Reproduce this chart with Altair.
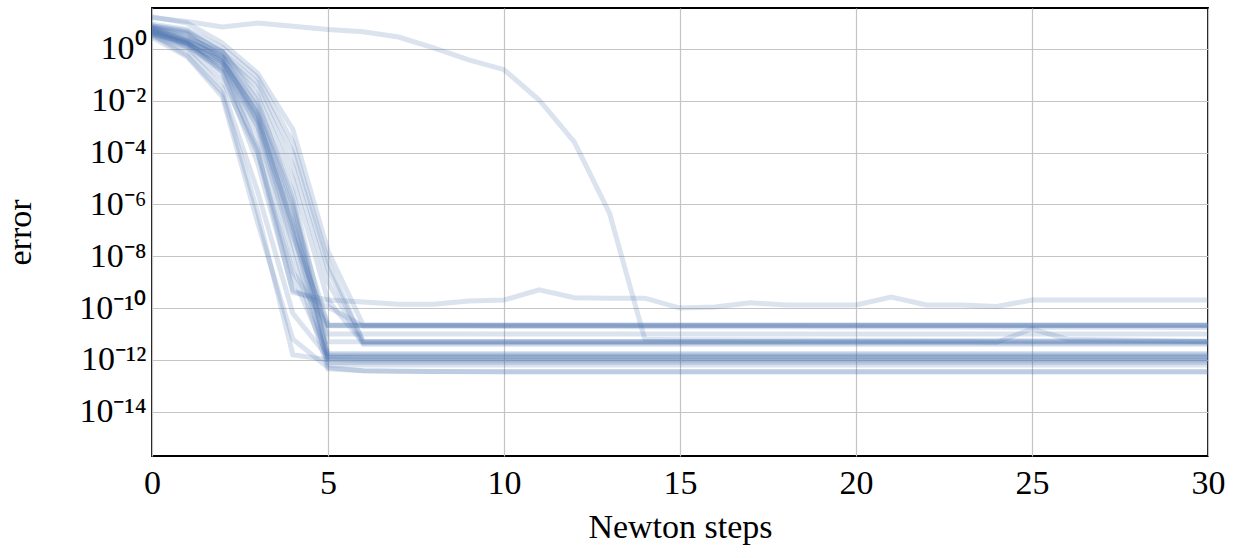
import altair as alt
import pandas as pd

# ---------------- data (log10 of the error, one value per Newton step 0..30) ----------------
steps = list(range(31))

run_slow = [1.2, 1.06, 0.85, 1.0, 0.88, 0.75, 0.66, 0.46, 0.04, -0.42, -0.8, -1.97, -3.6, -6.35, -11.2,
            -11.22, -11.22, -11.23, -11.23, -11.24, -11.24, -11.24, -11.25, -11.25, -11.25, -11.26,
            -11.26, -11.26, -11.27, -11.27, -11.27]
run_bumpy = [0.6, 0.25, -0.6, -3.9, -9.4, -9.69, -9.77, -9.85, -9.85, -9.73, -9.69, -9.3, -9.6, -9.62,
             -9.62, -10.0, -9.96, -9.8, -9.88, -9.88, -9.88, -9.58, -9.88, -9.88, -9.94, -9.69, -9.69,
             -9.69, -9.69, -9.69, -9.69]
run_p1 = [0.7, 0.3, -0.9, -4.4, -9.3, -9.95, -10.7, -10.7, -10.7, -10.7, -10.71, -10.71, -10.71, -10.71,
          -10.72, -10.72, -10.72, -10.72, -10.72, -10.73, -10.73, -10.73, -10.73, -10.73, -10.74, -10.74,
          -10.74, -10.74, -10.74, -10.75, -10.75]
run_f1 = [0.55, -0.25, -1.7, -6.3, -11.8, -12.0, -12.02, -12.02, -12.02, -12.02, -12.02, -12.02, -12.02,
          -12.02, -12.02, -12.02, -12.02, -12.02, -12.02, -12.02, -12.02, -12.02, -12.02, -12.02, -12.02,
          -12.02, -12.02, -12.02, -12.02, -12.02, -12.02]
run_f2 = [0.45, -0.3, -1.85, -6.7, -11.2, -12.3, -12.42, -12.44, -12.45, -12.46, -12.47, -12.47, -12.47,
          -12.47, -12.47, -12.47, -12.47, -12.47, -12.47, -12.47, -12.47, -12.47, -12.47, -12.47, -12.47,
          -12.47, -12.47, -12.47, -12.47, -12.47, -12.47]
run_f3 = [0.5, -0.05, -1.5, -5.5, -10.2, -11.9, -11.9, -11.9, -11.9, -11.9, -11.9, -11.9, -11.9, -11.9,
          -11.9, -11.9, -11.9, -11.9, -11.9, -11.9, -11.9, -11.9, -11.9, -11.9, -11.9, -11.9, -11.9,
          -11.9, -11.9, -11.9, -11.9]
run_g1 = [0.8, 0.3, -0.3, -2.3, -6.0, -12.0, -12.0, -12.0, -12.0, -12.0, -12.0, -12.0, -12.0, -12.0,
          -12.0, -12.0, -12.0, -12.0, -12.0, -12.0, -12.0, -12.0, -12.0, -12.0, -12.0, -12.0, -12.0,
          -12.0, -12.0, -12.0, -12.0]
run_g2 = [0.7, 0.2, -0.5, -2.8, -6.8, -11.9, -11.92, -11.92, -11.92, -11.92, -11.92, -11.92, -11.92,
          -11.92, -11.92, -11.92, -11.92, -11.92, -11.92, -11.92, -11.92, -11.92, -11.92, -11.92, -11.92,
          -11.92, -11.92, -11.92, -11.92, -11.92, -11.92]
run_g3 = [0.6, 0.1, -0.8, -3.3, -7.5, -12.1, -12.1, -12.1, -12.1, -12.1, -12.1, -12.1, -12.1, -12.1,
          -12.1, -12.1, -12.1, -12.1, -12.1, -12.1, -12.1, -12.1, -12.1, -12.1, -12.1, -12.1, -12.1,
          -12.1, -12.1, -12.1, -12.1]
run_g4 = [0.9, 0.65, -0.1, -2.0, -5.8, -11.8, -11.8, -11.8, -11.8, -11.8, -11.8, -11.8, -11.8, -11.8,
          -11.8, -11.8, -11.8, -11.8, -11.8, -11.8, -11.8, -11.8, -11.8, -11.8, -11.8, -11.8, -11.8,
          -11.8, -11.8, -11.8, -11.8]
run_g5 = [0.75, 0.35, -0.4, -2.6, -7.0, -12.2, -12.2, -12.2, -12.2, -12.2, -12.2, -12.2, -12.2, -12.2,
          -12.2, -12.2, -12.2, -12.2, -12.2, -12.2, -12.2, -12.2, -12.2, -12.2, -12.2, -12.2, -12.2,
          -12.2, -12.2, -12.2, -12.2]
run_g6 = [0.65, 0.15, -0.7, -3.0, -8.0, -12.35, -12.42, -12.44, -12.45, -12.45, -12.45, -12.45, -12.45,
          -12.45, -12.45, -12.45, -12.45, -12.45, -12.45, -12.45, -12.45, -12.45, -12.45, -12.45, -12.45,
          -12.45, -12.45, -12.45, -12.45, -12.45, -12.45]
run_g7 = [0.85, 0.6, -0.35, -2.5, -6.5, -11.75, -11.75, -11.75, -11.75, -11.75, -11.75, -11.75, -11.75,
          -11.75, -11.75, -11.75, -11.75, -11.75, -11.75, -11.75, -11.75, -11.75, -11.75, -11.75, -11.75,
          -11.75, -11.75, -11.75, -11.75, -11.75, -11.75]
run_g8 = [0.55, 0.05, -1.2, -4.0, -8.8, -11.85, -11.85, -11.85, -11.85, -11.85, -11.85, -11.85, -11.85,
          -11.85, -11.85, -11.85, -11.85, -11.85, -11.85, -11.85, -11.85, -11.85, -11.85, -11.85, -11.85,
          -11.85, -11.85, -11.85, -11.85, -11.85, -11.85]
run_h1 = [0.7, 0.25, -0.5, -2.5, -6.2, -10.66, -10.66, -10.66, -10.66, -10.66, -10.66, -10.66, -10.66,
          -10.66, -10.66, -10.66, -10.66, -10.66, -10.66, -10.66, -10.66, -10.66, -10.66, -10.66, -10.66,
          -10.66, -10.66, -10.66, -10.66, -10.66, -10.66]
run_h2 = [0.6, 0.2, -0.6, -2.9, -7.2, -10.66, -10.66, -10.66, -10.66, -10.66, -10.66, -10.66, -10.66,
          -10.66, -10.66, -10.66, -10.66, -10.66, -10.66, -10.66, -10.66, -10.66, -10.66, -10.66, -10.66,
          -10.66, -10.66, -10.66, -10.66, -10.66, -10.66]
run_h3 = [0.8, 0.55, -0.45, -2.7, -6.8, -11.0, -11.0, -11.0, -11.0, -11.0, -11.0, -11.0, -11.0, -11.0,
          -11.0, -11.0, -11.0, -11.0, -11.0, -11.0, -11.0, -11.0, -11.0, -11.0, -11.0, -11.0, -11.0,
          -11.0, -11.0, -11.0, -11.0]
run_h4 = [0.75, 0.3, -0.3, -2.2, -5.5, -11.3, -11.3, -11.3, -11.3, -11.3, -11.3, -11.3, -11.3, -11.3,
          -11.3, -11.3, -11.3, -11.3, -11.3, -11.3, -11.3, -11.3, -11.3, -11.3, -11.3, -11.3, -11.3,
          -11.3, -11.3, -11.3, -11.3]
run_h5 = [0.65, 0.2, -0.9, -3.8, -8.6, -10.68, -10.68, -10.68, -10.68, -10.68, -10.68, -10.68, -10.68,
          -10.68, -10.68, -10.68, -10.68, -10.68, -10.68, -10.68, -10.68, -10.68, -10.68, -10.68, -10.68,
          -10.68, -10.68, -10.68, -10.68, -10.68, -10.68]
run_s1 = [1.24, 1.0, 0.23, -0.93, -3.1, -7.8, -10.66, -10.66, -10.66, -10.66, -10.66, -10.66, -10.66,
          -10.66, -10.66, -10.66, -10.66, -10.66, -10.66, -10.66, -10.66, -10.66, -10.66, -10.66, -10.66,
          -10.66, -10.66, -10.66, -10.66, -10.66, -10.66]
run_s2 = [0.9, 0.7, -0.15, -1.3, -4.0, -8.5, -11.3, -11.3, -11.3, -11.3, -11.3, -11.3, -11.3, -11.3,
          -11.3, -11.3, -11.3, -11.3, -11.3, -11.3, -11.3, -11.3, -11.3, -11.3, -11.3, -11.3, -11.3,
          -11.3, -11.3, -11.3, -11.3]
run_s3 = [0.85, 0.45, -0.2, -1.5, -4.5, -9.0, -11.4, -11.4, -11.4, -11.4, -11.4, -11.4, -11.4, -11.4,
          -11.4, -11.4, -11.4, -11.4, -11.4, -11.4, -11.4, -11.4, -11.4, -11.4, -11.4, -11.4, -11.4,
          -11.4, -11.4, -11.4, -11.4]
run_s4 = [0.95, 0.75, 0.05, -1.1, -3.6, -8.2, -11.3, -11.3, -11.3, -11.3, -11.3, -11.3, -11.3, -11.3,
          -11.3, -11.3, -11.3, -11.3, -11.3, -11.3, -11.3, -11.3, -11.3, -11.3, -11.32, -10.8, -11.2,
          -11.22, -11.24, -11.27, -11.3]
run_s5 = [0.8, 0.4, -0.1, -1.8, -5.0, -9.7, -11.35, -11.35, -11.35, -11.35, -11.35, -11.35, -11.35,
          -11.35, -11.35, -11.35, -11.35, -11.35, -11.35, -11.35, -11.35, -11.35, -11.35, -11.35, -11.35,
          -11.35, -11.35, -11.35, -11.35, -11.35, -11.35]

runs = {
    "slow": run_slow, "bumpy": run_bumpy, "p1": run_p1, "f1": run_f1, "f2": run_f2, "f3": run_f3,
    "g1": run_g1, "g2": run_g2, "g3": run_g3, "g4": run_g4, "g5": run_g5, "g6": run_g6, "g7": run_g7,
    "g8": run_g8, "h1": run_h1, "h2": run_h2, "h3": run_h3, "h4": run_h4, "h5": run_h5, "s1": run_s1,
    "s2": run_s2, "s3": run_s3, "s4": run_s4, "s5": run_s5,
}

x_ticks = [0, 5, 10, 15, 20, 25, 30]
y_tick_exps = [0, -2, -4, -6, -8, -10, -12, -14]
y_tick_labels = ["10⁰", "10⁻²", "10⁻⁴", "10⁻⁶", "10⁻⁸", "10⁻¹⁰", "10⁻¹²", "10⁻¹⁴"]
y_domain_exps = [-15.71, 1.58]

# ---------------- build table ----------------
rows = []
for name, exps in runs.items():
    for s, e in zip(steps, exps):
        rows.append({"run": name, "step": s, "error": 10.0 ** e})
df = pd.DataFrame(rows)

label_expr = ""
for e, lab in zip(y_tick_exps, y_tick_labels):
    label_expr += f"round(log(datum.value)/LN10) == {e} ? '{lab}' : "
label_expr += "''"

FONT = "Liberation Serif"
FS = 34

chart = alt.Chart(df).mark_line(
    color="#4a72b0", opacity=0.2, strokeWidth=5, clip=True
).encode(
    x=alt.X("step:Q",
            scale=alt.Scale(domain=[0, 30], nice=False, zero=False),
            axis=alt.Axis(values=x_ticks, title="Newton steps", grid=True,
                          gridColor="#c4c4c4", gridWidth=1.2, ticks=False, tickSize=0,
                          domain=False, labelFont=FONT, labelFontSize=FS, labelColor="black",
                          labelBaseline="alphabetic", labelPadding=37, labelFlush=False,
                          titleFont=FONT, titleFontSize=FS, titleFontWeight="normal",
                          titleColor="black", titleY=81, titleBaseline="alphabetic")),
    y=alt.Y("error:Q",
            scale=alt.Scale(type="log", domain=[10 ** y_domain_exps[0], 10 ** y_domain_exps[1]],
                            nice=False),
            axis=alt.Axis(values=[10.0 ** e for e in y_tick_exps], labelExpr=label_expr,
                          title="error", grid=True, gridColor="#c4c4c4", gridWidth=1.2,
                          ticks=False, tickSize=0, domain=False, labelFont=FONT,
                          labelFontSize=FS, labelColor="black", labelPadding=6,
                          labelBaseline="middle", labelFlush=False,
                          titleFont=FONT, titleFontSize=FS, titleFontWeight="normal",
                          titleColor="black", titleX=-122, titleY=224,
                          titleBaseline="alphabetic", titleAngle=270)),
    detail="run:N",
).properties(
    width=1056, height=448,
    autosize=alt.AutoSizeParams(type="none"),
    padding={"left": 152, "top": 8, "right": 28, "bottom": 102},
).configure(
    background="white",
    view=alt.ViewConfig(stroke="black", strokeWidth=1.8),
)

chart.save("out.html", embed_options={"renderer": "svg", "actions": False})
